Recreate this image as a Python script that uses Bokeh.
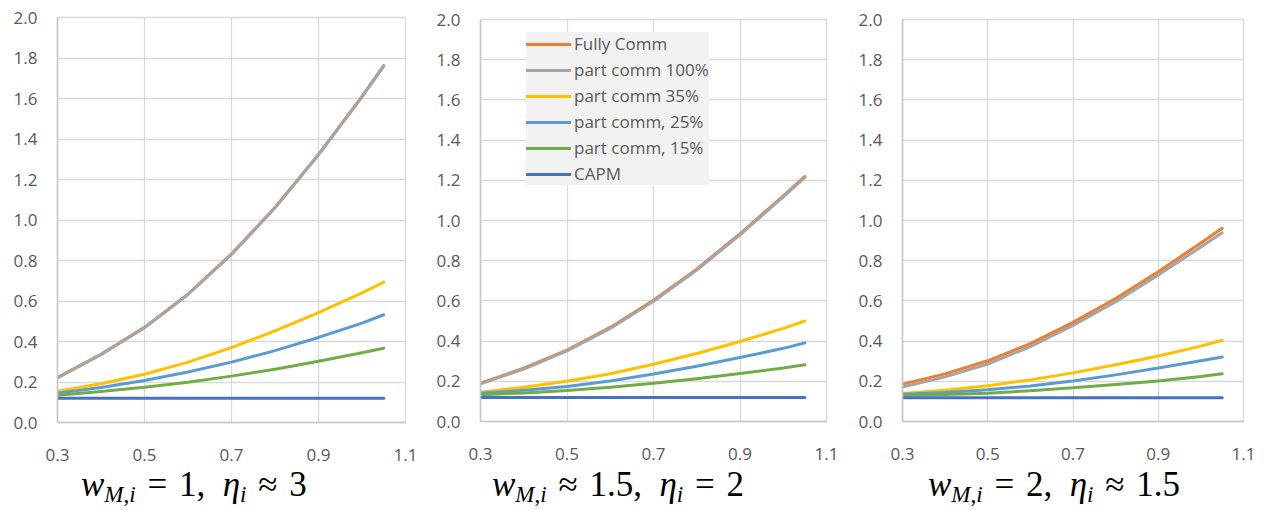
from bokeh.plotting import figure
from bokeh.layouts import row, column
from bokeh.models import Range1d, FixedTicker, PrintfTickFormatter, Legend, LegendItem, Div
from bokeh.embed import file_html
from bokeh.resources import INLINE

x = [0.3, 0.4, 0.5, 0.6, 0.7, 0.8, 0.9, 1.0, 1.05]
series_names = ["Fully Comm", "part comm 100%", "part comm 35%", "part comm, 25%", "part comm, 15%", "CAPM"]
colors = ["#ED7D31", "#A5A5A5", "#FFC000", "#5B9BD5", "#70AD47", "#4472C4"]
x_ticks = [0.3, 0.5, 0.7, 0.9, 1.1]
y_ticks = [0.0, 0.2, 0.4, 0.6, 0.8, 1.0, 1.2, 1.4, 1.6, 1.8, 2.0]

# Panel 1: w=1, eta~3
p1_fully = [0.222, 0.337, 0.470, 0.634, 0.832, 1.062, 1.324, 1.610, 1.762]
p1_part100 = [0.22, 0.335, 0.468, 0.632, 0.83, 1.06, 1.322, 1.608, 1.76]
p1_part35 = [0.155, 0.191, 0.238, 0.298, 0.370, 0.452, 0.543, 0.640, 0.693]
p1_part25 = [0.145, 0.173, 0.207, 0.249, 0.298, 0.355, 0.420, 0.491, 0.532]
p1_part15 = [0.135, 0.153, 0.174, 0.199, 0.229, 0.263, 0.302, 0.344, 0.367]
p1_capm = [0.12, 0.12, 0.12, 0.12, 0.12, 0.12, 0.12, 0.12, 0.12]

# Panel 2: w~1.5, eta=2
p2_fully = [0.191, 0.265, 0.355, 0.468, 0.603, 0.758, 0.934, 1.123, 1.219]
p2_part100 = [0.187, 0.261, 0.351, 0.463, 0.598, 0.753, 0.929, 1.118, 1.214]
p2_part35 = [0.146, 0.170, 0.200, 0.238, 0.285, 0.338, 0.398, 0.463, 0.50]
p2_part25 = [0.14, 0.155, 0.174, 0.202, 0.236, 0.275, 0.318, 0.364, 0.391]
p2_part15 = [0.133, 0.142, 0.154, 0.170, 0.190, 0.213, 0.239, 0.266, 0.282]
p2_capm = [0.12, 0.12, 0.12, 0.12, 0.12, 0.12, 0.12, 0.12, 0.12]

# Panel 3: w=2, eta~1.5
p3_fully = [0.186, 0.237, 0.302, 0.387, 0.493, 0.612, 0.745, 0.888, 0.961]
p3_part100 = [0.172, 0.222, 0.286, 0.372, 0.478, 0.596, 0.729, 0.868, 0.939]
p3_part35 = [0.139, 0.156, 0.178, 0.207, 0.242, 0.282, 0.326, 0.375, 0.404]
p3_part25 = [0.135, 0.144, 0.158, 0.177, 0.202, 0.232, 0.266, 0.302, 0.321]
p3_part15 = [0.13, 0.134, 0.141, 0.153, 0.168, 0.184, 0.202, 0.224, 0.238]
p3_capm = [0.118, 0.118, 0.118, 0.118, 0.118, 0.118, 0.118, 0.118, 0.118]

panels = [
    [p1_fully, p1_part100, p1_part35, p1_part25, p1_part15, p1_capm],
    [p2_fully, p2_part100, p2_part35, p2_part25, p2_part15, p2_capm],
    [p3_fully, p3_part100, p3_part35, p3_part25, p3_part15, p3_capm],
]

SUB = '<span style="font-size:23px; position:relative; top:6px;">%s</span>'
REL = ' <span style="margin:0 3px;">%s</span> '
captions = [
    '<i>w</i>' + SUB % '<i>M</i>,<i>i</i>' + REL % '=' + '1,&nbsp;&nbsp;<i>&eta;</i>' + SUB % '<i>i</i>' + REL % '&asymp;' + '3',
    '<i>w</i>' + SUB % '<i>M</i>,<i>i</i>' + REL % '&asymp;' + '1.5,&nbsp;&nbsp;<i>&eta;</i>' + SUB % '<i>i</i>' + REL % '=' + '2',
    '<i>w</i>' + SUB % '<i>M</i>,<i>i</i>' + REL % '=' + '2,&nbsp;&nbsp;<i>&eta;</i>' + SUB % '<i>i</i>' + REL % '&asymp;' + '1.5',
]

FIG_H = 470
# layout geometry per panel: (width, border_left, border_right, border_top, frame_height, caption_pad)
geom = [
    (420, 57, 15, 17, 405, 81),
    (422, 60, 16, 19, 402, 72),
    (425, 60, 24, 19, 402, 86),
]

GRID = "#d9d9d9"
AXIS = "#c6c6c6"
TXT = "#595959"
FONT = "Open Sans"

cols = []
for k, data in enumerate(panels):
    w, bl, br, bt, fh, cpad = geom[k]
    bb = FIG_H - bt - fh
    p = figure(width=w, height=FIG_H, output_backend="svg", toolbar_location=None,
               x_range=Range1d(0.3, 1.1), y_range=Range1d(0.0, 2.0),
               min_border_left=bl, min_border_right=br, min_border_top=bt, min_border_bottom=bb)
    p.xaxis.ticker = FixedTicker(ticks=x_ticks)
    p.yaxis.ticker = FixedTicker(ticks=y_ticks)
    p.xaxis.formatter = PrintfTickFormatter(format="%.1f")
    p.yaxis.formatter = PrintfTickFormatter(format="%.1f")
    for ax in (p.xaxis[0], p.yaxis[0]):
        ax.axis_line_color = AXIS
        ax.axis_line_width = 1.5
        ax.major_tick_line_color = None
        ax.minor_tick_line_color = None
        ax.major_tick_out = 0
        ax.major_label_text_font = FONT
        ax.major_label_text_font_size = "17px"
        ax.major_label_text_color = TXT
    p.xaxis.major_label_standoff = 26
    p.yaxis.major_label_standoff = 20
    p.xgrid.grid_line_color = GRID
    p.ygrid.grid_line_color = GRID
    p.xgrid.grid_line_width = 1.3
    p.ygrid.grid_line_width = 1.3
    p.outline_line_color = GRID
    p.outline_line_width = 1.3
    p.background_fill_color = "white"
    p.border_fill_color = "white"

    renderers = []
    for ys, c in zip(data, colors):
        r = p.line(x, ys, line_color=c, line_width=3, line_cap="round", line_join="round")
        renderers.append(r)

    if k == 1:
        items = [LegendItem(label=n, renderers=[r]) for n, r in zip(series_names, renderers)]
        legend = Legend(items=items, location=(46, 236))
        legend.background_fill_color = "#f2f2f2"
        legend.background_fill_alpha = 1.0
        legend.border_line_color = None
        legend.label_text_font = FONT
        legend.label_text_font_size = "17px"
        legend.label_text_color = TXT
        legend.glyph_width = 45
        legend.glyph_height = 20
        legend.label_height = 20
        legend.label_standoff = 3
        legend.spacing = 3
        legend.padding = 3
        legend.margin = 0
        p.add_layout(legend)

    div = Div(text='<div style="font-family:\'Liberation Serif\',serif; font-size:35px; color:#000; '
                   'white-space:nowrap; padding-left:%dpx; line-height:30px;">%s</div>' % (cpad, captions[k]),
              width=w, height=510 - FIG_H, margin=(0, 0, 0, 0))
    cols.append(column(p, div, spacing=0))

layout = row(*cols, spacing=0)
open("out.html", "w").write(file_html(layout, INLINE))
